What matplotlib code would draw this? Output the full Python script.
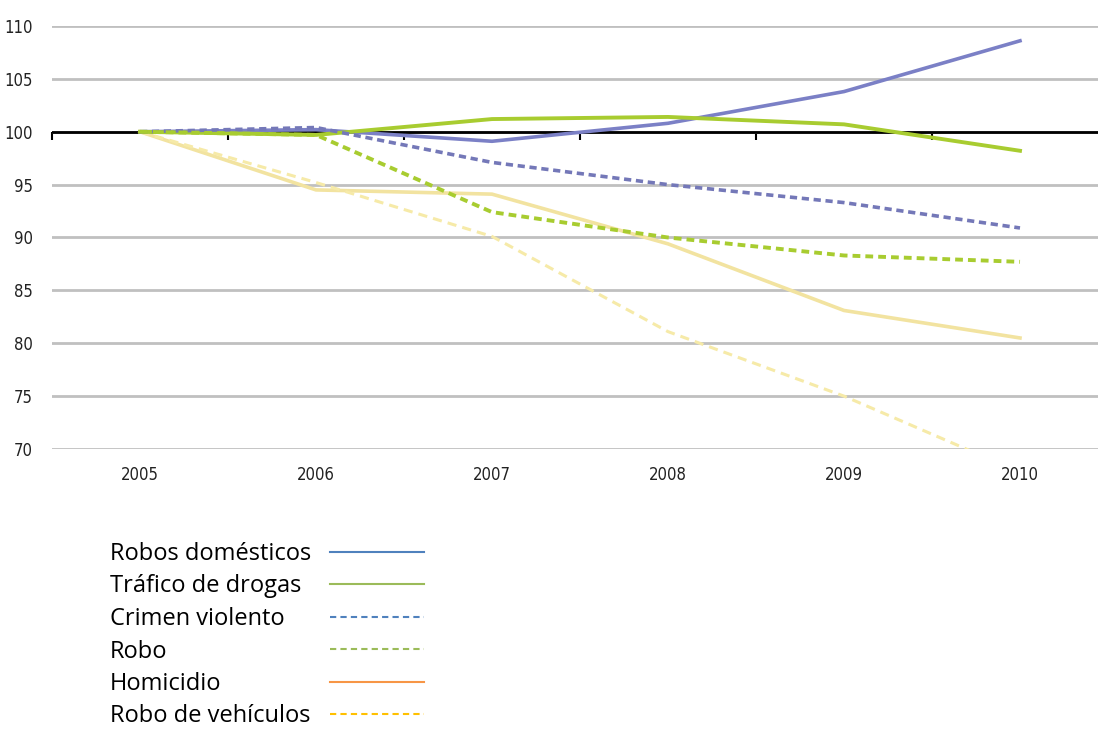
import matplotlib.pyplot as plt
from matplotlib.lines import Line2D

years = ['2005', '2006', '2007', '2008', '2009', '2010']

robos_domesticos = [100, 100.2, 99.1, 100.8, 103.8, 108.6]
trafico_drogas = [100, 99.7, 101.2, 101.4, 100.7, 98.2]
crimen_violento = [100, 100.4, 97.1, 95.0, 93.3, 90.9]
robo = [100, 99.7, 92.4, 90.0, 88.3, 87.7]
homicidio = [100, 94.5, 94.1, 89.4, 83.1, 80.5]
robo_vehiculos = [100, 95.2, 90.1, 81.1, 75.0, 67.8]

legend_labels = ['Robos domésticos', 'Tráfico de drogas', 'Crimen violento',
                 'Robo', 'Homicidio', 'Robo de vehículos']

yticks = [70, 75, 80, 85, 90, 95, 100, 105, 110]

fig = plt.figure(figsize=(10.98, 7.29), dpi=100)
ax = fig.add_axes([52 / 1098, 1 - 449 / 729, 1056 / 1098, 423 / 729])

x = range(len(years))
ax.plot(x, robos_domesticos, color='#7b80c6', lw=2.6, zorder=4)
ax.plot(x, trafico_drogas, color='#a8cc30', lw=2.8, zorder=4)
ax.plot(x, crimen_violento, color='#7478b8', lw=2.6, ls=(0, (2, 1.3)), zorder=4)
ax.plot(x, robo, color='#a8cc30', lw=2.8, ls=(0, (2, 1.3)), zorder=4)
ax.plot(x, homicidio, color='#f2e3a0', lw=2.6, zorder=3)
ax.plot(x, robo_vehiculos, color='#f6eaa8', lw=2.2, ls=(0, (3, 2)), zorder=3)

ax.set_xlim(-0.5, 5.5)
ax.set_ylim(70, 110)
ax.set_yticks(yticks)
ax.set_yticklabels([str(v) for v in yticks])
ax.set_xticks(list(x))
ax.set_xticklabels(years)
ax.tick_params(axis='both', length=0, labelsize=12, colors='#222222')
ax.tick_params(axis='y', pad=14)
ax.tick_params(axis='x', pad=12)
for lab in ax.get_xticklabels() + ax.get_yticklabels():
    lab.set_family(['Liberation Sans Narrow', 'DejaVu Sans'])
    lab.set_fontstretch('condensed')

ax.grid(axis='y', color='#c0c0c0', lw=2)
ax.set_axisbelow(True)
for s in ax.spines.values():
    s.set_visible(False)

# black axis line at 100 with ticks between categories
ax.axhline(100, color='black', lw=2, zorder=2)
sec = ax.secondary_xaxis((100 - 70) / 40)
sec.set_xticks([i - 0.5 for i in range(len(years) + 1)])
sec.set_xticklabels([])
for s in sec.spines.values():
    s.set_visible(False)
sec.tick_params(direction='in', length=6, width=1.5, color='black')

handles = [
    Line2D([], [], color='#4f81bd', lw=1.5),
    Line2D([], [], color='#9bbb59', lw=1.5),
    Line2D([], [], color='#4f81bd', lw=1.5, ls=(0, (3, 2))),
    Line2D([], [], color='#9bbb59', lw=1.5, ls=(0, (3, 2))),
    Line2D([], [], color='#f79646', lw=1.5),
    Line2D([], [], color='#ffc000', lw=1.5, ls=(0, (3, 2))),
]
legend_font = {'family': 'Open Sans', 'size': 17}

# labels on the left, line samples in their own column on the right
text_leg = fig.legend(handles, legend_labels, loc='upper left',
                      bbox_to_anchor=(110 / 1098, 1 - 542 / 729), frameon=False,
                      handlelength=0, handletextpad=0, labelspacing=0.36,
                      borderpad=0, borderaxespad=0, prop=legend_font)
for h in text_leg.legend_handles:
    h.set_visible(False)
fig.legend(handles, [''] * len(handles), loc='upper left',
           bbox_to_anchor=(330 / 1098, 1 - 542 / 729), frameon=False,
           handlelength=4.0, handletextpad=0, labelspacing=0.36,
           borderpad=0, borderaxespad=0, prop=legend_font)

fig.savefig('out.png', dpi=100)
